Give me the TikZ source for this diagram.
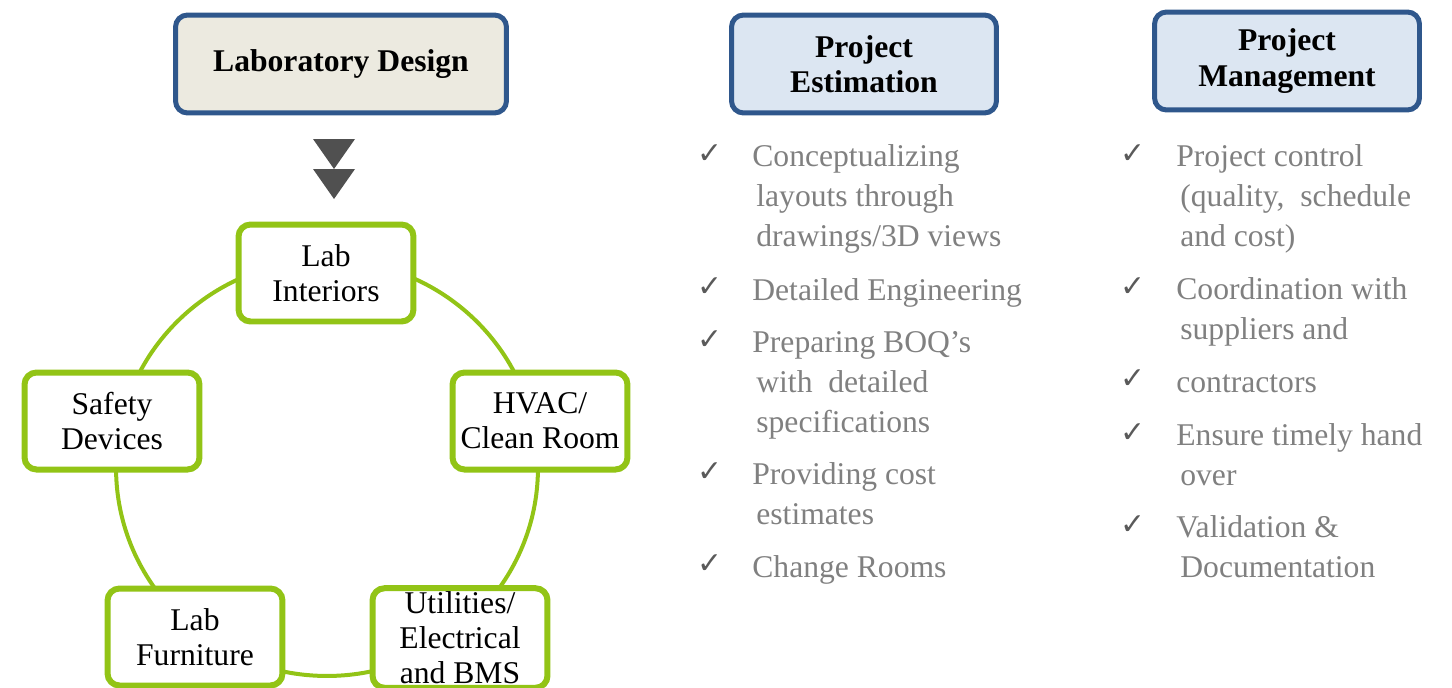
\documentclass[tikz,border=0pt]{standalone}
\usepackage{fontspec}
\setmainfont{Liberation Serif}
\newfontfamily\checkfont{DejaVu Sans}
\usetikzlibrary{positioning}

\definecolor{headblue}{RGB}{47,87,140}
\definecolor{labbeige}{RGB}{236,234,224}
\definecolor{headfill}{RGB}{220,230,242}
\definecolor{labgreen}{RGB}{146,196,22}
\definecolor{itemgray}{RGB}{128,128,128}
\definecolor{checkgray}{RGB}{90,90,90}
\definecolor{arrowgray}{RGB}{80,80,80}

\begin{document}
\begin{tikzpicture}[x=0.02cm,y=-0.02cm,font=\fontsize{18}{20}\selectfont]
			\tikzstyle{head box}=[draw=headblue,line width=0.1cm,rounded corners=0.24cm,align=center,font=\fontsize{18}{20}\selectfont\bfseries,minimum height=1.96cm]
			\tikzstyle{design box}=[head box,fill=labbeige,minimum width=6.62cm]
			\tikzstyle{phase box}=[head box,fill=headfill,minimum width=5.3cm]
			\tikzstyle{area box}=[draw=labgreen,fill=white,line width=0.12cm,rounded corners=0.24cm,align=center,minimum width=3.5cm,minimum height=1.94cm,inner sep=2pt]
			\tikzstyle{ring}=[draw=labgreen,line width=0.08cm]
			\tikzstyle{item}=[anchor=base west,align=left,text=itemgray,inner sep=0pt,font=\fontsize{18}{22.5}\selectfont]
			\tikzstyle{tick}=[anchor=base west,text=checkgray,inner sep=0pt,font=\checkfont\fontsize{17}{17}\selectfont]
			
			% Define the line step of the lists
			\def\linestep{39.5}
			
			\useasboundingbox (0,0) rectangle (1452,687);
			
			% Draw the heading boxes
			\node[design box] (design) at (341,64) {Laboratory Design};
			\node[phase box] (estimation) at (864,64) {Project\\Estimation};
			\node[phase box] (management) at (1287,61) {Project\\Management};
			
			% Draw the double arrow below the design box
			\foreach \y in {139,169}
			\fill[arrowgray] (313,\y) -- (355,\y) -- (334,\y+30) -- cycle;
			
			% Draw the ring behind the lab areas
			\coordinate (ring centre) at (327,468);
			\path[ring] (ring centre) ellipse [x radius=4.22cm,y radius=4.16cm];
			
			% Draw the lab area nodes
			\node[area box] (interiors) at (326,273) {Lab\\Interiors};
			\node[area box] (hvac) at (540,421) {HVAC/\\Clean Room};
			\node[area box] (utilities) at (460,638) {Utilities/\\Electrical\\and BMS};
			\node[area box] (furniture) at (195,637) {Lab\\Furniture};
			\node[area box] (safety) at (112,421) {Safety\\Devices};
			
			% Draw the estimation list
			\foreach \y/\n/\txt [count=\i] in {167/3/{Conceptualizing\\\hspace{0.08cm}layouts through\\\hspace{0.08cm}drawings/3D views},
				300/1/{Detailed Engineering},
				353/3/{Preparing BOQ’s\\\hspace{0.08cm}with\ \ detailed\\\hspace{0.08cm}specifications},
				485/2/{Providing cost\\\hspace{0.08cm}estimates},
				577/1/{Change Rooms}}
			{
				\node[tick] (est-tick-\i) at (697,\y-4) {✓};
				\node[item] (est-\i) at (752,{\y+(\n-1)*\linestep}) {\txt};
			}
			
			% Draw the management list
			\foreach \y/\n/\txt [count=\i] in {167/3/{Project control\\\hspace{0.08cm}(quality,\ \ schedule\\\hspace{0.08cm}and cost)},
				300/2/{Coordination with\\\hspace{0.08cm}suppliers and},
				392/1/{contractors},
				446/2/{Ensure timely hand\\\hspace{0.08cm}over},
				538/2/{Validation \&\\\hspace{0.08cm}Documentation}}
			{
				\node[tick] (man-tick-\i) at (1120,\y-4) {✓};
				\node[item] (man-\i) at (1176,{\y+(\n-1)*\linestep}) {\txt};
			}
		\end{tikzpicture}
\end{document}
